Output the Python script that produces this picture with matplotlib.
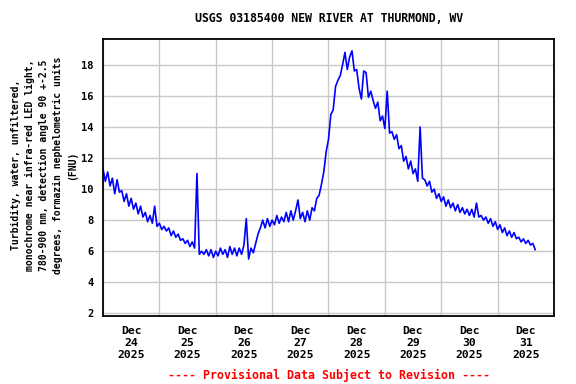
"""
Turbidity at USGS 03185400 New River at Thurmond, WV (Dec 24-31 2025).
"""

import matplotlib
matplotlib.use("Agg")
import matplotlib.pyplot as plt
import matplotlib.dates as mdates
import pandas as pd

# hourly turbidity readings (FNU), starting Dec 24 2025 00:00
turbidity = [
    # Dec 24
    11.3, 10.5, 11.1, 10.2, 10.7, 9.7, 10.6, 9.8, 9.9, 9.2, 9.7, 8.9,
    9.4, 8.7, 9.1, 8.4, 8.9, 8.2, 8.5, 7.9, 8.3, 7.8, 8.9, 7.6,
    # Dec 25
    7.8, 7.4, 7.6, 7.3, 7.5, 7.0, 7.3, 6.9, 7.1, 6.7, 6.8, 6.5,
    6.7, 6.3, 6.6, 6.2, 11.0, 5.8, 6.0, 5.8, 6.1, 5.7, 6.1, 5.6,
    # Dec 26
    6.0, 5.7, 6.2, 5.8, 6.1, 5.6, 6.3, 5.8, 6.2, 5.7, 6.2, 5.8,
    6.4, 8.1, 5.5, 6.2, 5.9, 6.5, 7.1, 7.5, 8.0, 7.5, 8.1, 7.6,
    # Dec 27
    8.0, 7.7, 8.3, 7.8, 8.2, 7.9, 8.5, 7.9, 8.6, 8.0, 8.6, 9.3,
    8.1, 8.5, 7.9, 8.6, 8.0, 8.8, 8.6, 9.4, 9.6, 10.3, 11.1, 12.4,
    # Dec 28
    13.2, 14.8, 15.1, 16.6, 17.0, 17.3, 18.0, 18.8, 17.7, 18.5, 18.9, 17.6,
    17.7, 16.5, 15.8, 17.6, 17.5, 15.9, 16.3, 15.7, 15.2, 15.6, 14.4, 14.7,
    # Dec 29
    13.9, 16.3, 13.6, 13.7, 13.2, 13.5, 12.6, 12.8, 11.8, 12.1, 11.3, 11.8,
    11.0, 11.3, 10.5, 14.0, 10.7, 10.6, 10.2, 10.5, 9.8, 10.0, 9.4, 9.7,
    # Dec 30
    9.2, 9.5, 8.9, 9.3, 8.8, 9.1, 8.6, 9.0, 8.5, 8.8, 8.4, 8.7,
    8.3, 8.7, 8.2, 9.1, 8.2, 8.3, 8.0, 8.2, 7.8, 8.1, 7.6, 7.9,
    # Dec 31
    7.4, 7.7, 7.2, 7.5, 7.0, 7.3, 6.9, 7.2, 6.8, 6.9, 6.6, 6.8,
    6.5, 6.7, 6.4, 6.5, 6.1,
]

start = "2025-12-24 00:00"
end = "2026-01-01 00:00"
y_ticks = [2, 4, 6, 8, 10, 12, 14, 16, 18]

title = "USGS 03185400 NEW RIVER AT THURMOND, WV"
ylabel = ("Turbidity, water, unfiltered,\n"
          "monochrome near infra-red LED light,\n"
          "780-900 nm, detection angle 90 +-2.5\n"
          "degrees, formazin nephelometric units\n"
          "(FNU)")
footer = "---- Provisional Data Subject to Revision ----"

mono = "DejaVu Sans Mono"

times = pd.date_range(start, periods=len(turbidity), freq="h")

fig = plt.figure(figsize=(5.76, 3.84), dpi=100)
ax = fig.add_axes([0.1788, 0.1771, 0.783, 0.7213])

ax.plot(times, turbidity, color="#0000ff", linewidth=1.2)

ax.set_xlim(pd.Timestamp(start), pd.Timestamp(end))
ax.set_ylim(1.83, 19.66)

# midnight gridlines, labels centred on each day
ax.xaxis.set_major_locator(mdates.DayLocator())
ax.xaxis.set_major_formatter(plt.NullFormatter())
ax.xaxis.set_minor_locator(mdates.HourLocator(byhour=[12]))
ax.xaxis.set_minor_formatter(mdates.DateFormatter("%b\n%d\n%Y"))
ax.tick_params(axis="x", which="both", length=0, pad=7)
for lbl in ax.get_xticklabels(minor=True):
    lbl.set_fontfamily(mono)
    lbl.set_fontweight("bold")
    lbl.set_fontsize(8.2)
    lbl.set_linespacing(1.25)

ax.set_yticks(y_ticks)
ax.tick_params(axis="y", length=0, pad=6.5)
for lbl in ax.get_yticklabels():
    lbl.set_fontfamily(mono)
    lbl.set_fontweight("bold")
    lbl.set_fontsize(7.5)

ax.grid(True, which="major", color="#c8c8c8", linewidth=1.0)
ax.set_axisbelow(True)
for sp in ax.spines.values():
    sp.set_linewidth(1.3)
    sp.set_color("black")

fig.text(0.571, 0.951, title, ha="center", va="center",
         fontfamily=mono, fontweight="bold", fontsize=8.3)
fig.text(0.076, 0.57, ylabel, ha="center", va="center", rotation=90,
         fontfamily=mono, fontweight="bold", fontsize=7.0,
         linespacing=1.5, multialignment="center")
fig.text(0.571, 0.023, footer, ha="center", va="center", color="red",
         fontfamily=mono, fontweight="bold", fontsize=8.4)

fig.savefig("out.png", dpi=100)
